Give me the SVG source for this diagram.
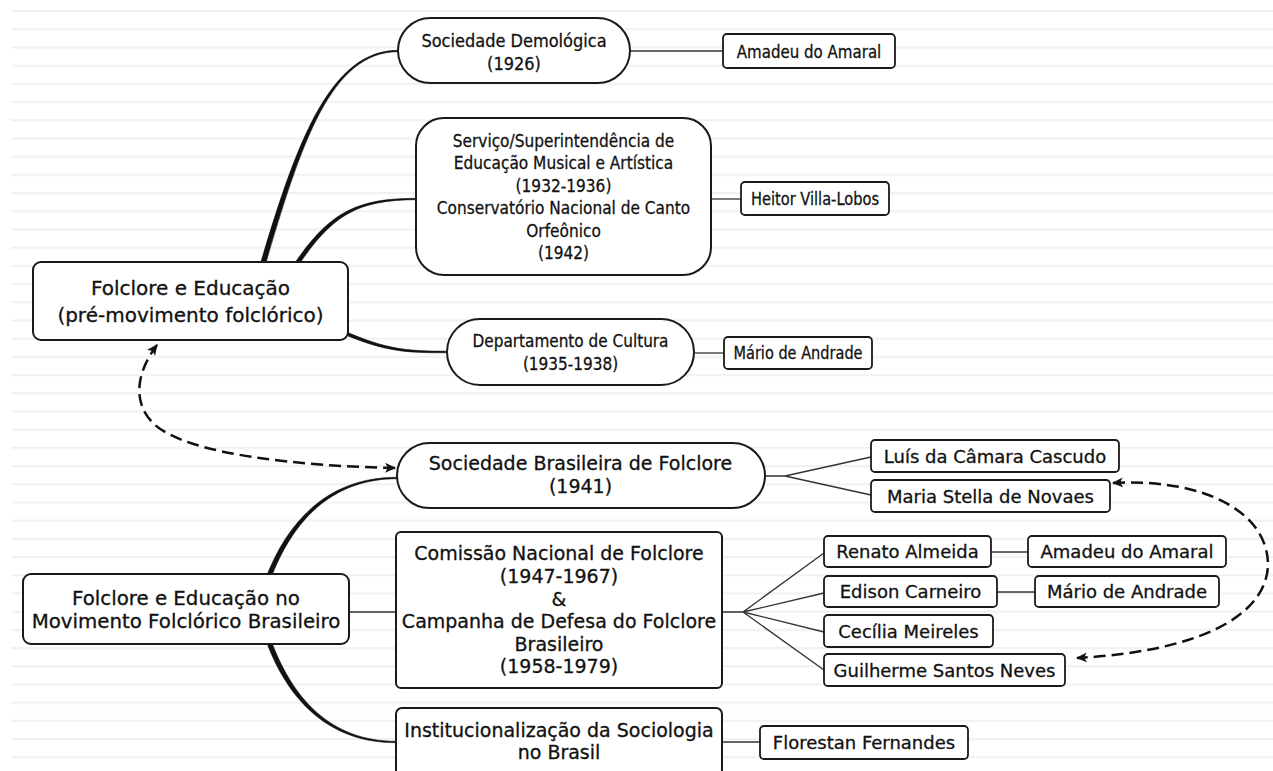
<svg xmlns="http://www.w3.org/2000/svg" width="1273" height="771" viewBox="0 0 1273 771">
<style>
.box{fill:#fff;stroke:#1a1a1a;stroke-width:2}
.pbox{fill:#fff;stroke:#1a1a1a;stroke-width:1.8}
text{font-family:"DejaVu Sans",Verdana,sans-serif;fill:#111;text-anchor:middle;stroke:#111;stroke-width:0.3}
.thin{fill:none;stroke:#333;stroke-width:1.3}
.thick{fill:#111;stroke:#111;stroke-width:0.6}
.dash{fill:none;stroke:#111;stroke-width:2.5;stroke-dasharray:12 6}
</style>
<defs>
<pattern id="ruled" patternUnits="userSpaceOnUse" x="0" y="10" width="40" height="18.2">
<rect x="0" y="0" width="40" height="2.2" fill="#f1f1f1"/>
</pattern>
<marker id="arr" viewBox="0 0 10 10" refX="9" refY="5" markerWidth="4.4" markerHeight="4.4" orient="auto-start-reverse" markerUnits="strokeWidth">
<path d="M0,0.5 L10,5 L0,9.5 L2.5,5 Z" fill="#111"/>
</marker>
</defs>
<rect width="1273" height="771" fill="#fff"/>
<rect x="11" y="0" width="1262" height="771" fill="url(#ruled)"/>

<g id="connectors">
<path class="thick" d="M260.6,263 C296,144.5 329.5,50.3 398,50.3 L398,51.7 C330.5,51.7 300.5,145.5 265.4,264.5 Z"/>
<path class="thick" d="M294.1,264 C328.5,213.8 354.5,198.3 416,198.3 L416,199.7 C356,199.8 331.5,216.2 297.9,266 Z"/>
<path class="thick" d="M345.6,331.6 C385.5,348.8 405,351.2 447,351.2 L447,352.8 C405,352.9 384.5,351.3 344.4,334.4 Z"/>
<path class="thick" d="M265.8,578 C288.5,519 329.5,477.3 397,477.3 L397,478.7 C331,478.8 292,521.5 270.2,580 Z"/>
<path class="thick" d="M270.2,638 C292,698.8 331,741.3 396,741.3 L396,742.7 C329.5,742.8 288,701.2 265.8,640 Z"/>
<path class="thin" d="M630,51 H723"/>
<path class="thin" d="M711,199 H741"/>
<path class="thin" d="M694,353 H724"/>
<path class="thin" d="M349,612 H396"/>
<path class="thin" d="M765,476 H785 L871,457 M785,476 L871,495"/>
<path class="thin" d="M722,612 H743 L824,553 M743,612 L824,593 M743,612 L824,632 M743,612 L824,670"/>
<path class="thin" d="M991,552 H1028"/>
<path class="thin" d="M997,592 H1035"/>
<path class="thin" d="M722,742 H760"/>
<path class="dash" d="M395,468 C300,466 190,455 155,425 C130,402 138,370 157,345" marker-start="url(#arr)" marker-end="url(#arr)"/>
<path class="dash" d="M1113,483 C1200,478 1268,510 1268,565 C1266,620 1190,652 1077,658" marker-start="url(#arr)" marker-end="url(#arr)"/>
</g>

<g id="root1">
<rect class="box" x="33" y="262" width="315" height="78" rx="8"/>
<text font-size="20" x="190.5" y="295">Folclore e Educação</text>
<text font-size="20" x="190.5" y="322">(pré-movimento folclórico)</text>
</g>

<g id="sociedade-demologica">
<rect class="box" x="398" y="18" width="232" height="65" rx="32.5"/>
<text font-size="18" transform="translate(514,0) scale(0.9,1)" x="0" y="47">Sociedade Demológica</text>
<text font-size="18" transform="translate(514,0) scale(0.9,1)" x="0" y="70">(1926)</text>
</g>
<g id="amadeu1">
<rect class="pbox" x="723" y="34" width="172" height="34" rx="4"/>
<text font-size="17.5" transform="translate(809,0) scale(0.86,1)" x="0" y="58">Amadeu do Amaral</text>
</g>

<g id="servico">
<rect class="box" x="416" y="118" width="295" height="157" rx="28"/>
<g transform="translate(563.5,0) scale(0.855,1)">
<text font-size="18" x="0" y="147">Serviço/Superintendência de</text>
<text font-size="18" x="0" y="169.5">Educação Musical e Artística</text>
<text font-size="18" x="0" y="192">(1932-1936)</text>
<text font-size="18" x="0" y="214.5">Conservatório Nacional de Canto</text>
<text font-size="18" x="0" y="237">Orfeônico</text>
<text font-size="18" x="0" y="259.5">(1942)</text>
</g>
</g>
<g id="heitor">
<rect class="pbox" x="741" y="182" width="148" height="33" rx="4"/>
<text font-size="17.5" transform="translate(815,0) scale(0.835,1)" x="0" y="205">Heitor Villa-Lobos</text>
</g>

<g id="departamento">
<rect class="box" x="447" y="319" width="247" height="66" rx="33"/>
<text font-size="18" transform="translate(570.5,0) scale(0.85,1)" x="0" y="347">Departamento de Cultura</text>
<text font-size="18" transform="translate(570.5,0) scale(0.85,1)" x="0" y="370">(1935-1938)</text>
</g>
<g id="mario1">
<rect class="pbox" x="724" y="337" width="148" height="32" rx="4"/>
<text font-size="17.5" transform="translate(798,0) scale(0.83,1)" x="0" y="359.5">Mário de Andrade</text>
</g>

<g id="root2">
<rect class="box" x="23" y="574" width="326" height="70" rx="8"/>
<text font-size="19.8" x="186" y="605">Folclore e Educação no</text>
<text font-size="19.8" x="186" y="628">Movimento Folclórico Brasileiro</text>
</g>

<g id="sbf">
<rect class="box" x="397" y="443" width="368" height="65" rx="32.5"/>
<text font-size="19" x="580.5" y="470">Sociedade Brasileira de Folclore</text>
<text font-size="19" x="580.5" y="493">(1941)</text>
</g>
<g id="luis">
<rect class="pbox" x="871" y="440" width="248" height="32" rx="4"/>
<text font-size="18" x="995" y="462.5">Luís da Câmara Cascudo</text>
</g>
<g id="maria">
<rect class="pbox" x="871" y="480" width="239" height="32" rx="4"/>
<text font-size="18" x="990.5" y="502.5">Maria Stella de Novaes</text>
</g>

<g id="comissao">
<rect class="box" x="396" y="532" width="326" height="156" rx="5"/>
<text font-size="19" x="559" y="560">Comissão Nacional de Folclore</text>
<text font-size="19" x="559" y="583">(1947-1967)</text>
<text font-size="19" x="559" y="606">&amp;</text>
<text font-size="19" x="559" y="628">Campanha de Defesa do Folclore</text>
<text font-size="19" x="559" y="651">Brasileiro</text>
<text font-size="19" x="559" y="673">(1958-1979)</text>
</g>
<g id="renato">
<rect class="pbox" x="824" y="536" width="167" height="31" rx="4"/>
<text font-size="18" x="907.5" y="558">Renato Almeida</text>
</g>
<g id="amadeu2">
<rect class="pbox" x="1028" y="536" width="198" height="31" rx="4"/>
<text font-size="18" x="1127" y="558">Amadeu do Amaral</text>
</g>
<g id="edison">
<rect class="pbox" x="824" y="576" width="173" height="31" rx="4"/>
<text font-size="18" x="910.5" y="598">Edison Carneiro</text>
</g>
<g id="mario2">
<rect class="pbox" x="1035" y="576" width="184" height="31" rx="4"/>
<text font-size="18" x="1127" y="598">Mário de Andrade</text>
</g>
<g id="cecilia">
<rect class="pbox" x="824" y="615" width="169" height="32" rx="4"/>
<text font-size="18" x="908.5" y="637.5">Cecília Meireles</text>
</g>
<g id="guilherme">
<rect class="pbox" x="824" y="654" width="241" height="32" rx="4"/>
<text font-size="18" x="944.5" y="676.5">Guilherme Santos Neves</text>
</g>

<g id="institucionalizacao">
<rect class="box" x="396" y="708" width="326" height="68" rx="6"/>
<text font-size="19" x="559" y="737">Institucionalização da Sociologia</text>
<text font-size="19" x="559" y="759">no Brasil</text>
</g>
<g id="florestan">
<rect class="pbox" x="760" y="726" width="208" height="33" rx="4"/>
<text font-size="18" x="864" y="749">Florestan Fernandes</text>
</g>
</svg>
